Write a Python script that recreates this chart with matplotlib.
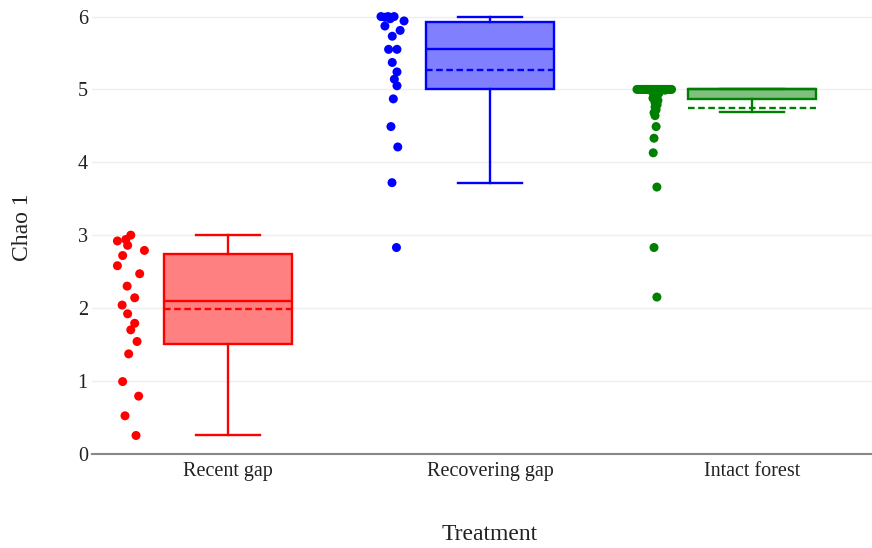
import matplotlib
matplotlib.use("Agg")
import matplotlib.pyplot as plt
import numpy as np

categories = ["Recent gap", "Recovering gap", "Intact forest"]
colors = ["#ff0000", "#0000ff", "#008000"]
fills = ["#ff8080", "#8080ff", "#80bf80"]

# observed values (Chao 1) per treatment
recent_gap = [3.00, 2.92, 2.94, 2.86, 2.79, 2.72, 2.58, 2.47, 2.30, 2.14,
              2.04, 1.92, 1.79, 1.70, 1.54, 1.37, 0.99, 0.79, 0.52, 0.25]
recovering_gap = [6.00, 6.00, 6.00, 5.99, 5.97, 5.94, 5.87, 5.81, 5.73, 5.55,
                  5.55, 5.37, 5.24, 5.14, 5.05, 4.87, 4.49, 4.21, 3.72, 2.83]
intact_forest = [5.00] * 20 + [4.99, 4.99, 4.99, 4.99, 4.97, 4.95, 4.93, 4.91,
                               4.88, 4.85, 4.82, 4.79, 4.76, 4.72, 4.68, 4.64,
                               4.49, 4.33, 4.13, 3.66, 2.83, 2.15]

# horizontal jitter of the points (fraction of category spacing)
recent_jitter = [-0.001, -0.052, -0.020, -0.013, 0.051, -0.032, -0.052, 0.033, -0.015, 0.014,
                 -0.034, -0.013, 0.014, -0.001, 0.023, -0.009, -0.032, 0.029, -0.023, 0.019]
recovering_jitter = [-0.046, -0.019, 0.004, -0.031, -0.011, 0.042, -0.031, 0.027, -0.003, -0.017,
                     0.015, -0.003, 0.015, 0.005, 0.015, 0.001, -0.008, 0.018, -0.004, 0.013]
intact_jitter = [-0.069, -0.055, -0.040, -0.025, -0.010, 0.005, 0.020, 0.035, 0.050, 0.063,
                 -0.062, -0.048, -0.033, -0.018, -0.003, 0.012, 0.027, 0.042, 0.057, -0.030,
                 -0.015, 0.008, 0.023, 0.038, -0.011, 0.015, -0.004, 0.008, -0.008, 0.011,
                 0.000, 0.008, 0.000, 0.004, -0.004, 0.000, 0.004, -0.004, -0.007, 0.007,
                 -0.004, 0.007]

# box statistics
q1 = [1.50, 5.00, 4.87]
median = [2.09, 5.55, 5.00]
q3 = [2.74, 5.93, 5.00]
whisker_lo = [0.25, 3.72, 4.69]
whisker_hi = [3.00, 6.00, 5.00]
means = [1.99, 5.26, 4.75]

yticks = [0, 1, 2, 3, 4, 5, 6]

plt.rcParams["font.family"] = ["Liberation Serif", "DejaVu Serif"]

fig = plt.figure(figsize=(8.72, 5.48), dpi=100)
ax = fig.add_axes([92 / 872, 1 - 453.7 / 548, (872 - 92) / 872, 443.7 / 548])

stats = []
for i in range(3):
    stats.append(dict(med=median[i], q1=q1[i], q3=q3[i], whislo=whisker_lo[i],
                      whishi=whisker_hi[i], mean=means[i], fliers=[], label=categories[i]))

LW = 1.7
positions = np.arange(3)
bp = ax.bxp(stats, positions=positions, widths=0.49, patch_artist=True,
            showmeans=True, meanline=True, showfliers=False, capwidths=0.245)
for i in range(3):
    c = colors[i]
    bp["boxes"][i].set(facecolor=fills[i], edgecolor=c, linewidth=LW)
    bp["medians"][i].set(color=c, linewidth=LW)
    bp["means"][i].set(color=c, linewidth=LW, linestyle=(0, (2.8, 1.5)))
    for w in bp["whiskers"][2 * i:2 * i + 2]:
        w.set(color=c, linewidth=LW)
    for cp in bp["caps"][2 * i:2 * i + 2]:
        cp.set(color=c, linewidth=LW)

groups = [recent_gap, recovering_gap, intact_forest]
jitters = [recent_jitter, recovering_jitter, intact_jitter]
for i, (vals, jit) in enumerate(zip(groups, jitters)):
    xs = positions[i] - 0.37 + np.array(jit)
    ax.scatter(xs, vals, s=42, color=colors[i], edgecolors="none", zorder=3, clip_on=False)

ax.set_xlim(-0.519, 2.458)
ax.set_ylim(0, 6.09)
ax.set_yticks(yticks)
ax.set_yticklabels([str(t) for t in yticks])
ax.set_xticks(positions)
ax.set_xticklabels(categories)
ax.tick_params(axis="both", length=0, labelsize=14.5, colors="#222222")
ax.tick_params(axis="x", pad=6)
ax.tick_params(axis="y", pad=3)
ax.grid(axis="y", color="#eeeeee", linewidth=1)
ax.set_axisbelow(True)
for s in ["top", "right", "left"]:
    ax.spines[s].set_visible(False)
ax.spines["bottom"].set_color("#888888")
ax.spines["bottom"].set_linewidth(1.5)
ax.spines["bottom"].set_zorder(4)

fig.text(22 / 872, 1 - 227 / 548, "Chao 1", rotation=90, ha="center", va="center",
         fontsize=17, color="#222222")
fig.text(490 / 872, 1 - 534 / 548, "Treatment", ha="center", va="center",
         fontsize=17, color="#222222")

fig.savefig("out.png", dpi=100)
